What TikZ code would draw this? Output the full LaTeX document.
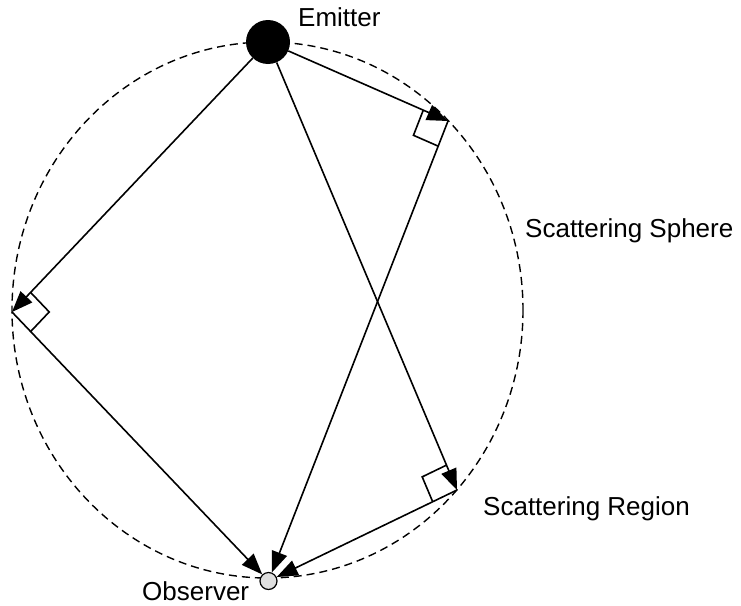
\documentclass[tikz,border=0pt]{standalone}
\usepackage{fontspec}
\setmainfont{Liberation Sans}
\usetikzlibrary{arrows.meta,calc}
\begin{document}
\begin{tikzpicture}[x=1pt,y=-1pt,
  ray/.style={line width=1.6pt,-{Triangle[length=21pt,width=16pt]}},
  sqbox/.style={line width=1.6pt},
  sphere/.style={line width=1.4pt,dash pattern=on 8pt off 5pt},
  lbl/.style={anchor=base west,inner sep=0pt,font=\fontsize{26}{30}\selectfont}]
\useasboundingbox (0,0) rectangle (741,605);
\coordinate (C) at (267.5,310);
\draw[sphere] (C) ellipse [x radius=255.5, y radius=268];
\node[circle,fill=black,minimum size=44pt,inner sep=0pt] (E) at (268,42) {};
\node[circle,draw,fill=gray!25,line width=1.2pt,minimum size=17pt,inner sep=0pt] (O) at (268.5,581) {};
\coordinate (S1) at (448,121);
\coordinate (S2) at (12,312);
\coordinate (S3) at (457,490);
% right-angle boxes
\foreach \s in {S1,S2,S3}{
  \coordinate (\s a) at ($(\s)!27pt!(E)$);
  \coordinate (\s b) at ($(\s)!27pt!(O)$);
  \draw[sqbox] (\s a) -- ($(\s a)+(\s b)-(\s)$) -- (\s b);
}
% rays
\draw[ray] (E) -- (S1);
\draw[ray] (E) -- (S2);
\draw[ray] (E) -- (S3);
\draw[ray] (S1) -- (O);
\draw[ray] (S2) -- (O);
\draw[ray] (S3) -- (O);
% labels
\node[lbl] (tE) at (298,27) {Emitter};
\node[lbl] (tS) at (525,237) {Scattering Sphere};
\node[lbl] (tR) at (483,515) {Scattering Region};
\node[lbl] (tO) at (142,600) {Observer};
\end{tikzpicture}
\end{document}
